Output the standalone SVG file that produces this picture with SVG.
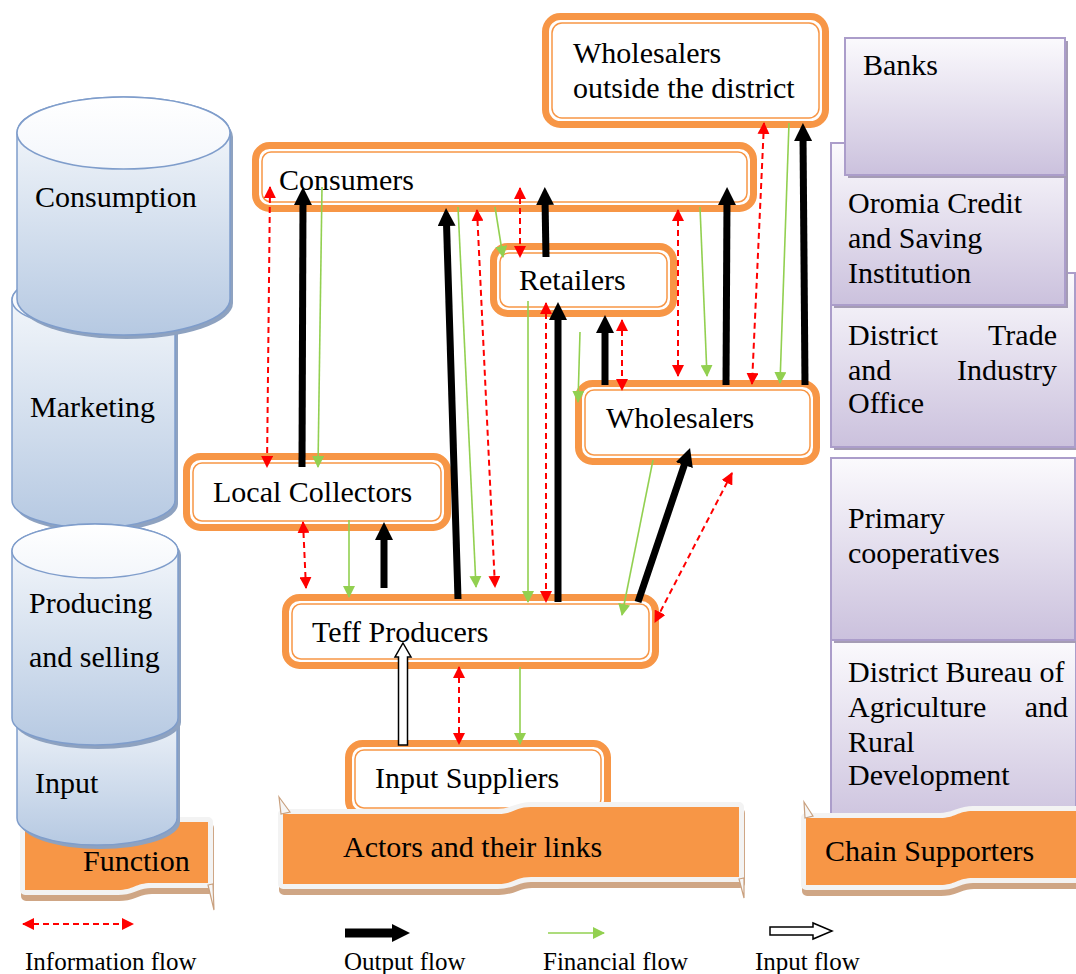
<svg xmlns="http://www.w3.org/2000/svg" width="1076" height="974" viewBox="0 0 1076 974">
<style>
text{font-family:"Liberation Serif","Times New Roman",serif;font-size:30px;fill:#000}
.leg{font-size:25px}
.nOut{fill:#fff;stroke:#f79646;stroke-width:7}
.nIn{fill:none;stroke:#f79646;stroke-width:1.5}
.cylS{fill:#8ea2c0}
.cylB{fill:url(#gCyl);stroke:#7f9dcb;stroke-width:1.5}
.cylT{fill:url(#gTop);stroke:#7f9dcb;stroke-width:1.5}
.pbox{fill:url(#gPur);stroke:#ab9dca;stroke-width:2}
.pshd{fill:#a59cb5}
.banW{fill:#f3f3f3;stroke:#f3f3f3;stroke-width:10;stroke-linejoin:round}
.banS{fill:#cfa685;stroke:#cfa685;stroke-width:10;stroke-linejoin:round}
.banO{fill:#f79646}
.fold{fill:#f6f6f6;stroke:#c9a07e;stroke-width:1.2}
.info{stroke:#ff0000;stroke-width:2;stroke-dasharray:6 4;fill:none;marker-start:url(#mRed);marker-end:url(#mRed)}
.out{stroke:#000;stroke-width:7;fill:none;marker-end:url(#mBlk)}
.fin{stroke:#92d050;stroke-width:1.6;fill:none;marker-end:url(#mGrn)}
.inp{fill:#fff;stroke:#000;stroke-width:1.5}
</style>
<defs>
<linearGradient id="gCyl" x1="0" y1="0" x2="0" y2="1"><stop offset="0" stop-color="#f9fbfd"/><stop offset="1" stop-color="#b6c9e2"/></linearGradient>
<linearGradient id="gTop" x1="0" y1="0" x2="0" y2="1"><stop offset="0" stop-color="#ffffff"/><stop offset="1" stop-color="#f3f6fb"/></linearGradient>
<linearGradient id="gPur" x1="0" y1="0" x2="0" y2="1"><stop offset="0" stop-color="#fbfafd"/><stop offset="1" stop-color="#cbc1dd"/></linearGradient>
<marker id="mRed" viewBox="0 0 12 12" refX="11" refY="6" markerWidth="12" markerHeight="12" markerUnits="userSpaceOnUse" orient="auto-start-reverse"><path d="M0,0L12,6L0,12Z" fill="#ff0000"/></marker>
<marker id="mBlk" viewBox="0 0 18 18" refX="6" refY="9" markerWidth="18" markerHeight="18" markerUnits="userSpaceOnUse" orient="auto"><path d="M0,0L18,9L0,18Z" fill="#000"/></marker>
<marker id="mGrn" viewBox="0 0 12 12" refX="11" refY="6" markerWidth="12" markerHeight="12" markerUnits="userSpaceOnUse" orient="auto"><path d="M0,0L12,6L0,12Z" fill="#92d050"/></marker>
</defs>
<rect width="1076" height="974" fill="#fff"/>

<!-- Function banner (behind cylinders) -->
<g id="banner-function">
<path class="banS" transform="translate(1,6)" d="M25,829 L118,829 C133,829 136,822 151,822 L208,822 L208,883 L151,883 C136,883 133,890 118,890 L25,890 Z"/>
<path class="banW" d="M25,829 L118,829 C133,829 136,822 151,822 L208,822 L208,883 L151,883 C136,883 133,890 118,890 L25,890 Z"/>
<path class="banO" d="M25,829 L118,829 C133,829 136,822 151,822 L208,822 L208,883 L151,883 C136,883 133,890 118,890 L25,890 Z"/>
<polygon class="fold" points="208,885 213,884 214,910"/>
<text x="83" y="871">Function</text>
</g>

<!-- Function cylinders -->
<g id="cyl-input">
<path class="cylS" transform="translate(3,4)" d="M17,715 L17,818 A80,27 0 0 0 177,818 L177,715 A80,27 0 0 0 17,715 Z"/>
<path class="cylB" d="M17,715 L17,818 A80,27 0 0 0 177,818 L177,715 A80,27 0 0 0 17,715 Z"/>
<text x="35" y="793">Input</text>
</g>
<g id="cyl-marketing">
<path class="cylS" transform="translate(3,4)" d="M12,300 L12,500 A81.5,28 0 0 0 175,500 L175,300 A81.5,28 0 0 0 12,300 Z"/>
<path class="cylB" d="M12,300 L12,500 A81.5,28 0 0 0 175,500 L175,300 A81.5,28 0 0 0 12,300 Z"/>
<ellipse class="cylT" cx="93.5" cy="300" rx="81.5" ry="28"/>
<text x="30" y="417">Marketing</text>
</g>
<g id="cyl-producing">
<path class="cylS" transform="translate(3,4)" d="M12,551 L12,718 A83,27 0 0 0 178,718 L178,551 A83,27 0 0 0 12,551 Z"/>
<path class="cylB" d="M12,551 L12,718 A83,27 0 0 0 178,718 L178,551 A83,27 0 0 0 12,551 Z"/>
<ellipse class="cylT" cx="95" cy="551" rx="83" ry="27"/>
<text x="29" y="613">Producing</text>
<text x="29" y="667">and selling</text>
</g>
<g id="cyl-consumption">
<path class="cylS" transform="translate(3,4)" d="M17,133 L17,299 A106.5,36 0 0 0 230,299 L230,133 A106.5,36 0 0 0 17,133 Z"/>
<path class="cylB" d="M17,133 L17,299 A106.5,36 0 0 0 230,299 L230,133 A106.5,36 0 0 0 17,133 Z"/>
<ellipse class="cylT" cx="123.5" cy="133" rx="106.5" ry="36"/>
<text x="35" y="207">Consumption</text>
</g>

<!-- Chain supporters -->
<g id="sup-trade">
<rect class="pshd" x="834" y="276" width="244" height="174"/>
<rect class="pbox" x="831" y="273" width="244" height="174"/>
<text x="848" y="345">District</text><text x="1057" y="345" text-anchor="end">Trade</text>
<text x="848" y="380">and</text><text x="1057" y="380" text-anchor="end">Industry</text>
<text x="848" y="413">Office</text>
</g>
<g id="sup-ocssi">
<rect class="pshd" x="834" y="146" width="234" height="162"/>
<rect class="pbox" x="831" y="143" width="234" height="162"/>
<text x="848" y="213">Oromia Credit</text>
<text x="848" y="248">and Saving</text>
<text x="848" y="283">Institution</text>
</g>
<g id="sup-banks">
<rect class="pshd" x="848" y="41" width="220" height="137"/>
<rect class="pbox" x="845" y="38" width="220" height="137"/>
<text x="863" y="75">Banks</text>
</g>
<g id="sup-bureau">
<rect class="pshd" x="834" y="643" width="245" height="190"/>
<rect class="pbox" x="831" y="640" width="245" height="190"/>
<text x="848" y="682">District Bureau of</text>
<text x="848" y="717">Agriculture</text><text x="1068" y="717" text-anchor="end">and</text>
<text x="848" y="752">Rural</text>
<text x="848" y="785">Development</text>
</g>
<g id="sup-coop">
<rect class="pshd" x="834" y="461" width="244" height="182"/>
<rect class="pbox" x="831" y="458" width="244" height="182"/>
<text x="848" y="528">Primary</text>
<text x="848" y="563">cooperatives</text>
</g>

<!-- Actor nodes -->
<g id="node-wholesalers-outside">
<rect class="nOut" x="545.5" y="16.5" width="280" height="108" rx="15"/>
<rect class="nIn" x="552" y="23" width="267" height="95" rx="10"/>
<text x="573" y="63">Wholesalers</text>
<text x="573" y="98">outside the district</text>
</g>
<g id="node-consumers">
<rect class="nOut" x="255.5" y="145.5" width="498" height="63" rx="14"/>
<rect class="nIn" x="262" y="152" width="485" height="50" rx="9"/>
<text x="279" y="190">Consumers</text>
</g>
<g id="node-retailers">
<rect class="nOut" x="493.5" y="246.5" width="180" height="67" rx="14"/>
<rect class="nIn" x="500" y="253" width="167" height="54" rx="9"/>
<text x="519" y="290">Retailers</text>
</g>
<g id="node-wholesalers">
<rect class="nOut" x="578.5" y="383.5" width="238" height="78" rx="14"/>
<rect class="nIn" x="585" y="390" width="225" height="65" rx="9"/>
<text x="606" y="428">Wholesalers</text>
</g>
<g id="node-local-collectors">
<rect class="nOut" x="186.5" y="456.5" width="261" height="71" rx="14"/>
<rect class="nIn" x="193" y="463" width="248" height="58" rx="9"/>
<text x="213" y="502">Local Collectors</text>
</g>
<g id="node-teff-producers">
<rect class="nOut" x="285.5" y="597.5" width="370" height="68" rx="14"/>
<rect class="nIn" x="292" y="604" width="357" height="55" rx="9"/>
<text x="312" y="642">Teff Producers</text>
</g>
<g id="node-input-suppliers">
<rect class="nOut" x="348.5" y="743.5" width="259" height="71" rx="14"/>
<rect class="nIn" x="355" y="750" width="246" height="58" rx="9"/>
<text x="375" y="788">Input Suppliers</text>
</g>

<!-- Connectors -->
<g id="connectors">
<line class="info" x1="270" y1="187" x2="267" y2="467"/>
<line class="info" x1="303" y1="522" x2="306" y2="588"/>
<line class="info" x1="477" y1="210" x2="495" y2="587"/>
<line class="info" x1="520" y1="188" x2="520" y2="257"/>
<line class="info" x1="546" y1="303" x2="546" y2="602"/>
<line class="info" x1="622" y1="320" x2="622" y2="390"/>
<line class="info" x1="678" y1="210" x2="678" y2="376"/>
<line class="info" x1="764" y1="123" x2="752" y2="384"/>
<line class="info" x1="732" y1="473" x2="655" y2="622"/>
<line class="info" x1="459" y1="667" x2="459" y2="744"/>

<line class="fin" x1="322" y1="187" x2="318" y2="467"/>
<line class="fin" x1="349" y1="520" x2="349" y2="597"/>
<line class="fin" x1="458" y1="207" x2="476" y2="587"/>
<line class="fin" x1="495" y1="207" x2="503" y2="257"/>
<line class="fin" x1="528" y1="301" x2="528" y2="602"/>
<line class="fin" x1="580" y1="332" x2="578" y2="402"/>
<line class="fin" x1="700" y1="207" x2="707" y2="376"/>
<line class="fin" x1="789" y1="123" x2="780" y2="383"/>
<line class="fin" x1="653" y1="460" x2="622" y2="615"/>
<line class="fin" x1="520" y1="667" x2="520" y2="744"/>

<line class="out" x1="302" y1="467" x2="303" y2="199"/>
<line class="out" x1="384" y1="588" x2="384" y2="534"/>
<line class="out" x1="458" y1="599" x2="446.4" y2="220"/>
<line class="out" x1="546" y1="257" x2="545" y2="199"/>
<line class="out" x1="558" y1="602" x2="558" y2="314"/>
<line class="out" x1="605" y1="385" x2="605" y2="327"/>
<line class="out" x1="726" y1="385" x2="727" y2="199"/>
<line class="out" x1="805" y1="385" x2="803" y2="135"/>
<line class="out" x1="638" y1="602" x2="686.2" y2="459.4"/>

<polygon class="inp" points="403,643 411,657 407.5,657 407.5,745 398.5,745 398.5,657 395,657"/>
</g>

<!-- Banners -->
<g id="banner-actors">
<path class="banS" transform="translate(1,6)" d="M283,814 L498,814 C513,814 516,807 531,807 L739,807 L739,877 L531,877 C516,877 513,884 498,884 L283,884 Z"/>
<path class="banW" d="M283,814 L498,814 C513,814 516,807 531,807 L739,807 L739,877 L531,877 C516,877 513,884 498,884 L283,884 Z"/>
<path class="banO" d="M283,814 L498,814 C513,814 516,807 531,807 L739,807 L739,877 L531,877 C516,877 513,884 498,884 L283,884 Z"/>
<polygon class="fold" points="279,797 290,812 281,814"/>
<polygon class="fold" points="739,879 744,878 744,898"/>
<text x="343" y="857">Actors and their links</text>
</g>
<g id="banner-supporters">
<path class="banS" transform="translate(1,6)" d="M806,818 L940,818 C955,818 958,811 973,811 L1082,811 L1082,878 L973,878 C958,878 955,885 940,885 L806,885 Z"/>
<path class="banW" d="M806,818 L940,818 C955,818 958,811 973,811 L1082,811 L1082,878 L973,878 C958,878 955,885 940,885 L806,885 Z"/>
<path class="banO" d="M806,818 L940,818 C955,818 958,811 973,811 L1082,811 L1082,878 L973,878 C958,878 955,885 940,885 L806,885 Z"/>
<polygon class="fold" points="804,802 813,816 805,818"/>
<text x="825" y="861">Chain Supporters</text>
</g>

<!-- Legend -->
<g id="legend">
<line class="info" x1="23" y1="924" x2="133" y2="924"/>
<line class="out" x1="345" y1="933" x2="398" y2="933" style="stroke-width:9"/>
<line class="fin" x1="548" y1="933" x2="604" y2="933"/>
<polygon class="inp" points="770,927 813,927 813,923 832,931 813,939 813,935 770,935"/>
<text class="leg" x="25" y="970">Information flow</text>
<text class="leg" x="344" y="970">Output flow</text>
<text class="leg" x="543" y="970">Financial flow</text>
<text class="leg" x="755" y="970">Input flow</text>
</g>
</svg>
